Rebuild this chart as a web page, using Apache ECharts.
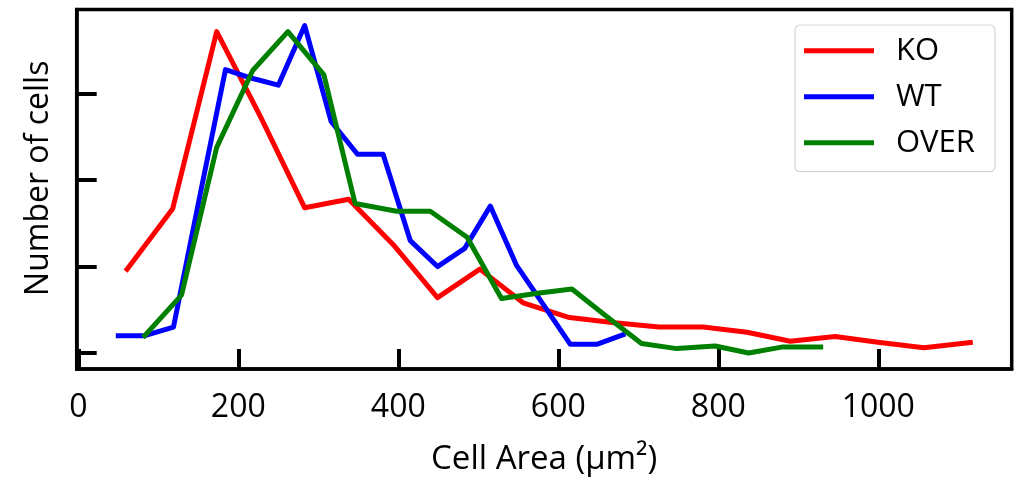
<!DOCTYPE html>
<html>
<head>
<meta charset="utf-8">
<script src="https://cdn.jsdelivr.net/npm/echarts@6/dist/echarts.min.js"></script>
<style>
  html, body { margin: 0; padding: 0; background: #ffffff; }
  #chart { width: 1021px; height: 481px; }
</style>
</head>
<body>
<div id="chart"></div>
<script>
// Cell area distributions (bin centre in µm², number of cells)
const koArea   = [61, 118, 173, 228, 283, 338, 394, 449, 502, 556, 614, 670, 726, 781, 836, 890, 946, 1002, 1057, 1115];
const koCount  = [9.7, 16.7, 37.2, 27.3, 16.8, 17.8, 12.5, 6.4, 9.7, 5.8, 4.1, 3.5, 3.0, 3.0, 2.4, 1.35, 1.9, 1.2, 0.6, 1.2];

const wtArea   = [50, 83, 119, 152, 184, 217, 250, 283, 316, 349, 381, 415, 449, 483, 515, 548, 582, 615, 648, 681];
const wtCount  = [2.0, 2.0, 3.0, 18.2, 32.8, 31.8, 31.0, 37.9, 26.8, 23.0, 23.0, 13.0, 10.0, 12.1, 17.0, 10.1, 5.5, 1.0, 1.0, 2.1];

const overArea  = [83, 129, 173, 218, 262, 307, 346, 398, 440, 486, 529, 574, 617, 662, 704, 748, 796, 838, 881, 928];
const overCount = [2.0, 6.7, 23.8, 32.7, 37.2, 32.2, 17.3, 16.4, 16.4, 13.4, 6.3, 6.9, 7.4, 4.1, 1.1, 0.5, 0.8, 0.0, 0.7, 0.7];

const xTicks = [0, 200, 400, 600, 800, 1000];
const yTicks = [0, 10, 20, 30];

const seriesNames = ['KO', 'WT', 'OVER'];
const seriesColors = ['#ff0000', '#0000ff', '#008000'];

const FONT = '"Open Sans", "DejaVu Sans", sans-serif';

function pairs(xs, ys) {
  return xs.map((x, i) => [x, ys[i]]);
}

const chart = echarts.init(document.getElementById('chart'), null, { renderer: 'canvas' });

const lineSeries = [
  [koArea, koCount],
  [wtArea, wtCount],
  [overArea, overCount]
].map(([xs, ys], i) => ({
  name: seriesNames[i],
  type: 'line',
  data: pairs(xs, ys),
  symbol: 'none',
  z: 2 + i,
  lineStyle: { color: seriesColors[i], width: 5, cap: 'square', join: 'round' },
  itemStyle: { color: seriesColors[i] }
}));

chart.setOption({
  animation: false,
  backgroundColor: '#ffffff',
  grid: {
    left: 76.7, top: 9.5, width: 935, height: 361.7,
    show: true, borderColor: '#000000', borderWidth: 3.5, backgroundColor: 'transparent'
  },
  xAxis: {
    type: 'value',
    min: -2, max: 1166.75,
    name: 'Cell Area (µm²)',
    nameLocation: 'middle',
    nameGap: 74,
    nameTextStyle: { fontFamily: FONT, fontSize: 33, color: '#000000' },
    axisLine: { show: true, onZero: false, lineStyle: { color: '#000000', width: 3.5 } },
    axisTick: { show: true, inside: true, length: 20, customValues: xTicks,
                lineStyle: { color: '#000000', width: 4 } },
    axisLabel: { show: true, customValues: xTicks, margin: 23,
                 formatter: (v) => String(v),
                 fontFamily: FONT, fontSize: 32, color: '#000000' },
    splitLine: { show: false }
  },
  yAxis: {
    type: 'value',
    min: -1.86, max: 39.76,
    name: 'Number of cells',
    nameLocation: 'middle',
    nameGap: 22,
    nameRotate: 90,
    nameTextStyle: { fontFamily: FONT, fontSize: 32, color: '#000000', padding: [0, 0, 0, 22] },
    axisLine: { show: true, onZero: false, lineStyle: { color: '#000000', width: 3.5 } },
    axisTick: { show: true, inside: true, length: 20, customValues: yTicks,
                lineStyle: { color: '#000000', width: 4 } },
    axisLabel: { show: false },
    splitLine: { show: false }
  },
  graphic: [{
    type: 'rect',
    z: 3,
    shape: { x: 795, y: 25, width: 200, height: 146.7, r: 5 },
    style: { fill: 'rgba(255,255,255,0.8)', stroke: '#d6d6d6', lineWidth: 1.2 }
  }],
  legend: {
    z: 4,
    orient: 'vertical',
    left: 804,
    top: 32.7,
    padding: 0,
    itemWidth: 70,
    itemHeight: 5,
    itemGap: 10,
    icon: 'rect',
    data: seriesNames,
    textStyle: { fontFamily: FONT, fontSize: 31, color: '#000000', lineHeight: 36, padding: [0, 0, 0, 17] }
  },
  series: lineSeries
});
</script>
</body>
</html>
